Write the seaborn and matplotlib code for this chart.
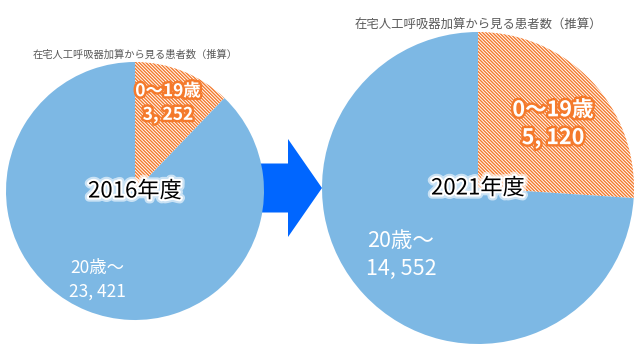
import matplotlib
matplotlib.use("Agg")
import matplotlib.pyplot as plt
import matplotlib.patheffects as pe
from matplotlib.patches import FancyArrow
import seaborn as sns

sns.set_theme(style="white")
plt.rcParams['font.family'] = ['Noto Sans CJK JP', 'DejaVu Sans']
plt.rcParams['hatch.linewidth'] = 1.0

# data
years = ["2016年度", "2021年度"]
groups = ["0～19歳", "20歳～"]
young = [3252, 5120]
adult = [23421, 14552]
title = "在宅人工呼吸器加算から見る患者数（推算）"

blue = "#7DB8E4"
orange = "#F47A2C"

fig = plt.figure(figsize=(6.4, 3.6), dpi=100)
ax = fig.add_axes([0, 0, 1, 1])

# layout per pie: center, radius, font sizes, label positions
layout = [
    dict(center=(135, 169), r=129, fs_title=7.4, fs_year=16, fs_lab=12.5,
         title_y=305, young_xy=(168, 257), adult_xy=(97, 80)),
    dict(center=(478, 172), r=156, fs_title=8.9, fs_year=16, fs_lab=15.5,
         title_y=335, young_xy=(553, 236), adult_xy=(401, 105)),
]

# arrow between the pies
ax.add_patch(FancyArrow(258, 172, 64, 0, width=49, head_width=98, head_length=34,
                        length_includes_head=True, color="#0066FF", lw=0, zorder=1))

for i, L in enumerate(layout):
    wedges, _ = ax.pie([young[i], adult[i]], center=L["center"], radius=L["r"],
                       startangle=90, counterclock=False,
                       colors=["white", blue], wedgeprops=dict(linewidth=0))
    wedges[0].set_hatch("\\" * 10)
    wedges[0].set_edgecolor(orange)
    wedges[0].set_linewidth(0)
    for w in wedges:
        w.set_zorder(2)

    cx, cy = L["center"]
    ax.text(cx, L["title_y"], title, ha="center", va="center",
            fontsize=L["fs_title"], color="#595959", zorder=5)
    ax.text(cx, cy, years[i], ha="center", va="center", fontsize=L["fs_year"],
            color="black", zorder=5,
            path_effects=[pe.withStroke(linewidth=6, foreground="white", alpha=0.6),
                          pe.withStroke(linewidth=3, foreground="white")])
    ax.text(*L["young_xy"], f"{groups[0]}\n{young[i]:,}".replace(",", ", "),
            ha="center", va="center", fontsize=L["fs_lab"], color="white",
            fontweight="bold", linespacing=1.4, zorder=5,
            path_effects=[pe.withStroke(linewidth=3.5, foreground=orange)])
    ax.text(*L["adult_xy"], f"{groups[1]}\n{adult[i]:,}".replace(",", ", "),
            ha="center", va="center", fontsize=L["fs_lab"], color="white",
            linespacing=1.4, zorder=5)

ax.set_xlim(0, 640)
ax.set_ylim(0, 360)
ax.set_aspect("auto")
ax.axis("off")

fig.savefig("out.png", dpi=100)
